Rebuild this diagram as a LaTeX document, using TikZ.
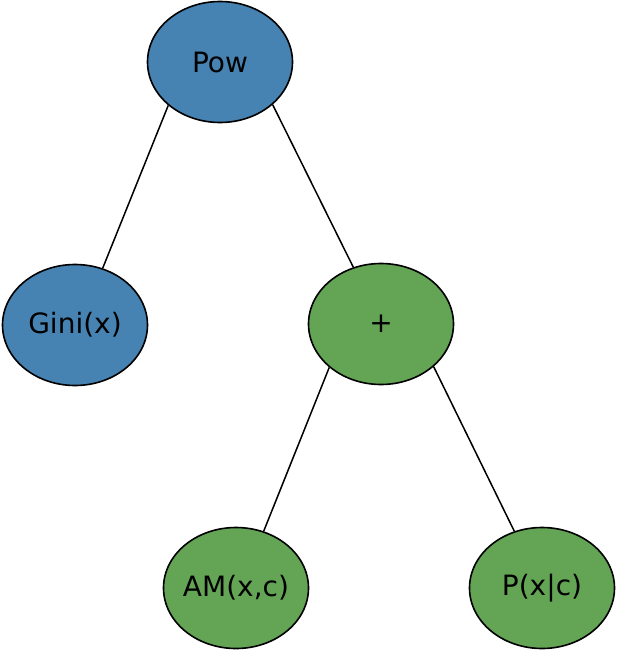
\documentclass[tikz,border=0pt]{standalone}
\usepackage{fontspec}
\setmainfont{DejaVu Sans}
\usetikzlibrary{shapes.geometric}
\definecolor{nodeblue}{RGB}{70,131,178}
\definecolor{nodegreen}{RGB}{99,164,85}
\tikzset{
  tnode/.style={ellipse, draw=black, line width=1.6pt, minimum width=145pt, minimum height=121pt, inner sep=0pt, inner xsep=-20pt, font=\fontsize{28}{33}\selectfont},
  bluenode/.style={tnode, fill=nodeblue},
  greennode/.style={tnode, fill=nodegreen},
  edge/.style={draw=black, line width=1.5pt}
}
\begin{document}
\begin{tikzpicture}[x=1pt,y=-1pt]
\useasboundingbox (0,0) rectangle (616,650);
\node[bluenode] (pow) at (220,62) {Pow};
\node[bluenode] (gini) at (75,325) {Gini(x)};
\node[greennode] (plus) at (381,324) {+};
\node[greennode] (am) at (236,588) {AM(x,c)};
\node[greennode] (p) at (542,588) {P(x|c)};
\draw[edge] (pow.220) -- (gini.64);
\draw[edge] (pow.-39) -- (plus.116);
\draw[edge] (plus.220) -- (am.64);
\draw[edge] (plus.-39) -- (p.116);
\end{tikzpicture}
\end{document}
